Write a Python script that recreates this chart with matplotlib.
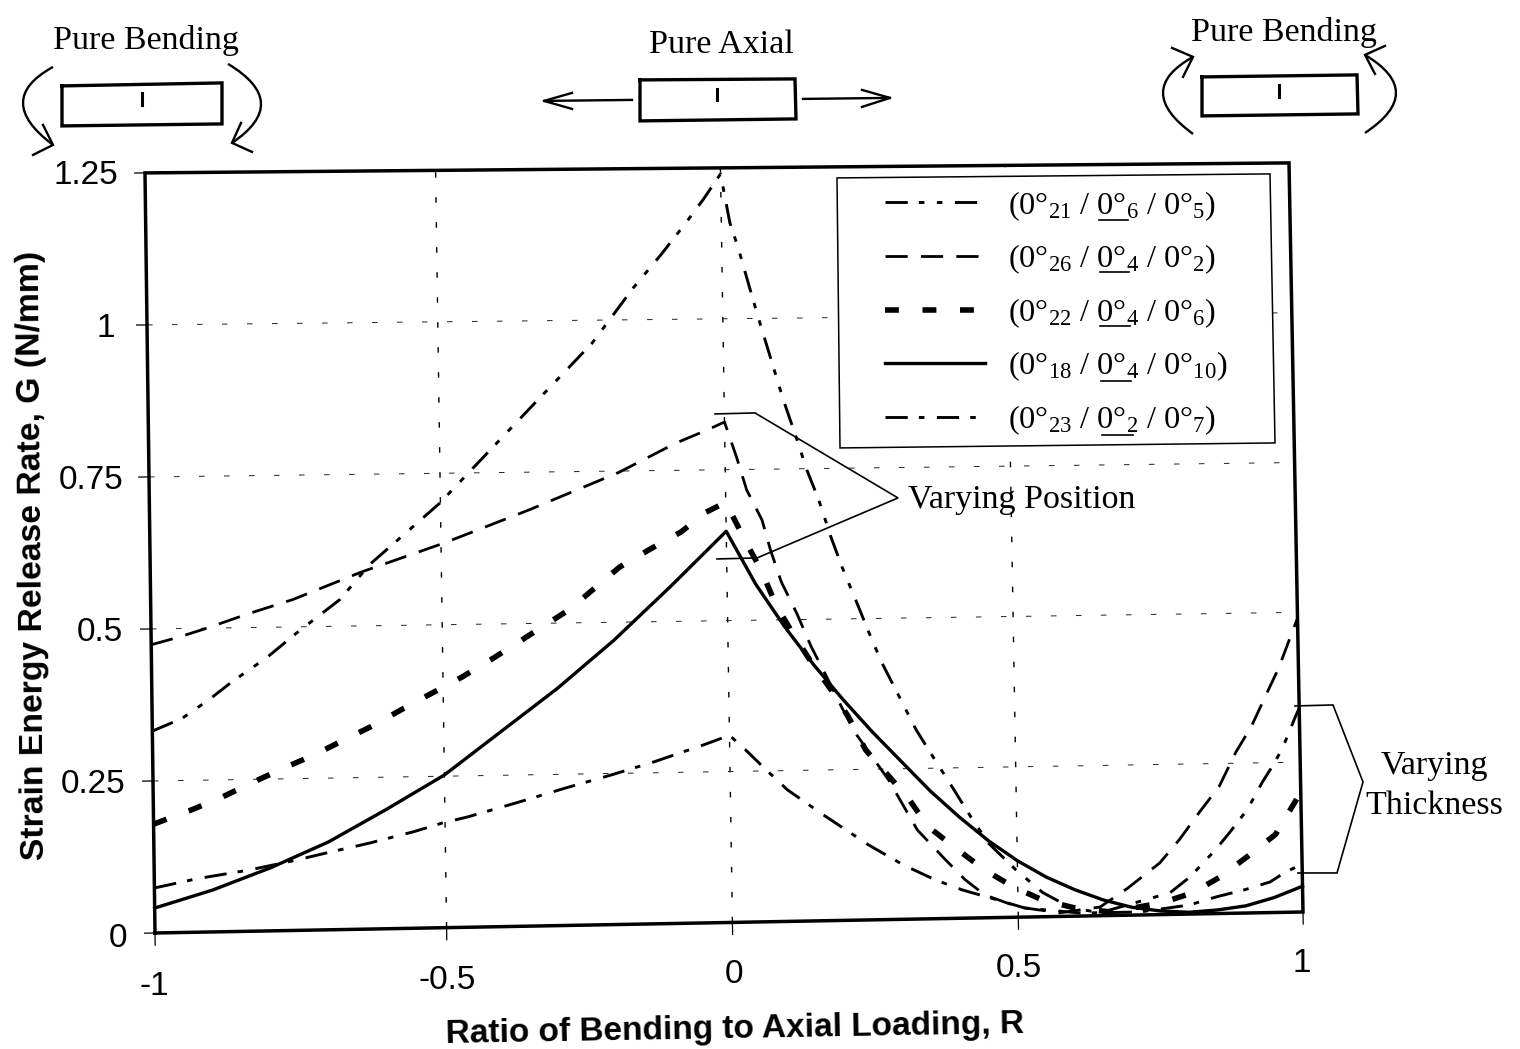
import matplotlib
matplotlib.use("Agg")
import matplotlib.pyplot as plt
import numpy as np
from matplotlib.patches import PathPatch, Polygon
from matplotlib.path import Path
from matplotlib.transforms import ScaledTranslation, Transform

plt.rcParams['lines.scale_dashes'] = False
plt.rcParams['mathtext.fontset'] = 'custom'
plt.rcParams['mathtext.rm'] = 'Liberation Serif'
plt.rcParams['mathtext.it'] = 'Liberation Serif:italic'
plt.rcParams['mathtext.bf'] = 'Liberation Serif:bold'

W = 1520
H = 1049
SANS = 'Liberation Sans'
SERIF = 'Liberation Serif'

# values
r_a = [-1, -.949, -.901, -.861, -.802, -.75, -.675, -.623, -.502, -.36, -.23, -.195, -.156, -.106, -.061, -.031, 0,
       .015, .029, .049, .062, .104, .124, .143, .163, .183, .202, .227, .247, .269, .295, .327, .351, .391, .42, .45,
       .497, .544, .593, .644, .767, .803, .849, .874, .906, .933, .951, .969, .994, 1]
g_a = [.332, .352, .383, .412, .45, .49, .544, .601, .70, .837, .962, 1.005, 1.053, 1.108, 1.161, 1.198, 1.24,
       1.159, 1.117, 1.047, 1.002, .864, .806, .748, .698, .637, .586, .526, .477, .426, .376, .314, .276, .214, .168, .124,
       .079, .04, .014, .005, .036, .062, .107, .135, .173, .218, .244, .273, .328, .34]

r_b = [-1, -.952, -.904, -.835, -.756, -.637, -.494, -.344, -.186, -.086, -.031, 0,
       .02, .037, .063, .077, .095, .121, .146, .17, .197, .22, .277, .326, .372, .408, .442, .5, .573,
       .644, .693, .75, .785, .821, .857, .887, .916, .941, .965, .993, 1]
g_b = [.474, .486, .50, .522, .545, .589, .635, .688, .748, .795, .816, .829,
       .771, .716, .666, .616, .563, .511, .454, .408, .354, .311, .232, .148, .10, .064, .038, .017, .006,
       .0145, .045, .086, .124, .169, .212, .268, .312, .361, .407, .474, .49]

r_c = [-1, -.933, -.881, -.829, -.777, -.722, -.67, -.622, -.57, -.518, -.467, -.414, -.277, -.188, -.136, -.079, -.035, 0,
       .034, .06, .085, .112, .146, .179, .209, .238, .276, .311, .345, .396, .442, .493, .543, .598, .661,
       .75, .806, .856, .904, .954, .989, 1]
g_c = [.179, .202, .222, .245, .267, .289, .313, .335, .362, .388, .413, .442, .522, .591, .619, .648, .68, .696,
       .63, .583, .525, .48, .428, .383, .337, .282, .24, .201, .153, .114, .08, .05, .028, .014, .006,
       .019, .035, .061, .094, .13, .183, .20]

r_s = [-1, -.9, -.8, -.7, -.6, -.5, -.4, -.3, -.2, -.1, 0,
       .05, .1, .15, .2, .25, .3, .35, .4, .45, .5, .55, .6, .65, .7, .75, .8, .85, .9, .95, 1]
g_s = [.041, .069, .104, .145, .197, .252, .322, .392, .47, .557, .648,
       .56, .488, .424, .366, .312, .262, .212, .168, .128, .094, .066, .044, .026, .013, .006, .003, .006, .012, .025, .043]

r_e = [-1, -.927, -.836, -.755, -.703, -.629, -.555, -.504, -.461, -.375, -.289, -.21, -.133, -.045, 0,
       .024, .063, .10, .163, .241, .301, .357, .403, .465, .512, .61, .713,
       .80, .849, .899, .943, .972, .992, 1]
g_e = [.074, .088, .101, .116, .127, .142, .159, .173, .182, .204, .227, .247, .268, .295, .31,
       .289, .252, .218, .175, .124, .09, .064, .047, .029, .015, .005, .005,
       .015, .028, .039, .051, .068, .076, .08]

x_ticks = [-1, -.5, 0, .5, 1]
x_tick_labels = ['-1', '-0.5', '0', '0.5', '1']
y_ticks = [0, .25, .5, .75, 1, 1.25]
y_tick_labels = ['0', '0.25', '0.5', '0.75', '1', '1.25']

lab_a = r'(0°$_{21}$ / 0°$_{6}$ / 0°$_{5}$)'
lab_b = r'(0°$_{26}$ / 0°$_{4}$ / 0°$_{2}$)'
lab_c = r'(0°$_{22}$ / 0°$_{4}$ / 0°$_{6}$)'
lab_s = r'(0°$_{18}$ / 0°$_{4}$ / 0°$_{10}$)'
lab_e = r'(0°$_{23}$ / 0°$_{2}$ / 0°$_{7}$)'


class ScanTilt(Transform):
    # the page was scanned a bit crooked, this bends the data the same way
    input_dims = 2
    output_dims = 2

    def transform_non_affine(self, xy):
        xy = np.asarray(xy, dtype=float)
        r = xy[:, 0]
        v = xy[:, 1] / 1.25
        u = np.interp(r, x_ticks, [0, .254, .503, .752, 1]) + (r - np.clip(r, -1, 1)) / 2
        px = (1 - v) * (155 + 1148 * u) + v * (145 + 1144 * u)
        py = (1 - v) * (933 - 21 * u) + v * (173 - 10 * u)
        return np.column_stack([(px - 155) / 1148 * 2 - 1, (933 - py) / 760 * 1.25])


fig = plt.figure(figsize=(15.2, 10.491), dpi=100)
ax = fig.add_axes([155 / W, 1 - 933 / H, 1148 / W, 760 / H])
ax.set_xlim(-1, 1)
ax.set_ylim(0, 1.25)
for s in ax.spines.values():
    s.set_visible(False)
tilt = ScanTilt() + ax.transData

# grid
for x in x_ticks[1:-1]:
    ax.plot([x, x], [0, 1.25], transform=tilt, color='black', lw=1.0, ls=(0, (4, 14)), clip_on=False, zorder=1)
for y in y_ticks[1:-1]:
    ax.plot([-1, 1], [y, y], transform=tilt, color='#222222', lw=0.7, ls=(0, (4, 14)), clip_on=False, zorder=1)

# frame and tick marks
ax.plot([-1, 1, 1, -1, -1], [0, 0, 1.25, 1.25, 0], transform=tilt, color='black', lw=2.5, clip_on=False, zorder=4,
        solid_joinstyle='miter')
for x in x_ticks:
    ax.plot([x, x], [-.02, 0], transform=tilt, color='black', lw=0.9, clip_on=False, zorder=1)
for y in y_ticks:
    ax.plot([-1.018, -1], [y, y], transform=tilt, color='black', lw=0.9, clip_on=False, zorder=1)

line_a, = ax.plot(r_a, g_a, transform=tilt, color='black', lw=2.1, ls=(0, (16, 8, 4, 9, 4, 9)), clip_on=False, zorder=3)
line_b, = ax.plot(r_b, g_b, transform=tilt, color='black', lw=2.0, ls=(0, (16, 9.5)), clip_on=False, zorder=3)
line_c, = ax.plot(r_c, g_c, transform=tilt, color='black', lw=4.0, ls=(0, (10, 17)), clip_on=False, zorder=3)
line_s, = ax.plot(r_s, g_s, transform=tilt, color='black', lw=2.4, clip_on=False, zorder=3)
line_e, = ax.plot(r_e, g_e, transform=tilt, color='black', lw=2.1, ls=(0, (16, 8, 4, 9)), clip_on=False, zorder=3)

ax.set_xticks(x_ticks)
ax.set_xticklabels(x_tick_labels, family=SANS, fontsize=24)
ax.set_yticks(y_ticks)
ax.set_yticklabels(y_tick_labels, family=SANS, fontsize=24)
ax.tick_params(length=0, pad=0)


def shift(label, dx, dy):
    off = ScaledTranslation(dx / 100, -dy / 100, fig.dpi_scale_trans)
    label.set_transform(label.get_transform() + off)


# the labels follow the crooked axes too
for lab, dx, dy in zip(ax.get_xticklabels(), [-1, 5, 5, 3, -1], [38, 32, 26, 20, 15]):
    shift(lab, dx, dy)
for lab, dx, dy in zip(ax.get_yticklabels(), [-28, -29, -32, -32, -40, -37], [2, 0, 0, 0, 0, -1]):
    shift(lab, dx, dy)

ax.set_xlabel('Ratio of Bending to Axial Loading, R', family=SANS, fontweight='bold', fontsize=24, rotation=1,
              va='center', ha='center')
ax.xaxis.set_label_coords((735 - 155) / 1148, (933 - 1029) / 760)
ax.set_ylabel('Strain Energy Release Rate, G (N/mm)', family=SANS, fontweight='bold', fontsize=24.3, rotation=90.5,
              va='center', ha='center')
ax.yaxis.set_label_coords((33 - 155) / 1148, (933 - 555) / 760)

# overlay in page pixels for the sketches and notes
art = fig.add_axes([0, 0, 1, 1], zorder=5)
art.set_xlim(0, W)
art.set_ylim(H, 0)
art.axis('off')

ax.add_patch(Polygon([(837, 178), (1270, 174), (1275, 443), (840, 448)], closed=True, facecolor='white',
                     edgecolor='black', lw=1.1, transform=art.transData, clip_on=False, zorder=4.5))
leg = ax.legend([line_a, line_b, line_c, line_s, line_e], [lab_a, lab_b, lab_c, lab_s, lab_e],
                loc='upper left', bbox_to_anchor=(885 / W, 1 - 189 / H), bbox_transform=fig.transFigure,
                frameon=False, borderpad=0, borderaxespad=0, handlelength=3.09, handletextpad=.72, labelspacing=.62,
                prop={'family': SERIF, 'size': 23.3})
leg.set_zorder(6)

# underlines of the middle ply
for x0, x1, y in [(1099, 1128, 220), (1100, 1129, 272), (1100, 1130, 326), (1101, 1131, 381), (1102, 1133, 435)]:
    art.plot([x0, x1], [y, y], color='black', lw=1.2)


def seg(pts, lw=1.5):
    xs, ys = zip(*pts)
    art.plot(xs, ys, color='black', lw=lw, solid_joinstyle='miter')


def curve(p0, mid, p1):
    ctrl = (2 * mid[0] - (p0[0] + p1[0]) / 2, 2 * mid[1] - (p0[1] + p1[1]) / 2)
    art.add_patch(PathPatch(Path([p0, ctrl, p1], [Path.MOVETO, Path.CURVE3, Path.CURVE3]), fill=False, lw=1.7))


# left sketch
seg([(62, 86), (222, 83), (222, 124), (62, 126), (62, 86)], 2.4)
seg([(142, 93), (142, 105)], 2.2)
curve((53, 67), (23, 103), (53, 145))
seg([(43, 125), (53, 145), (33, 155)], 1.7)
curve((228, 64), (261, 103), (232, 143))
seg([(241, 123), (232, 143), (252, 152)], 1.7)

# middle sketch
seg([(640, 80), (795, 79), (796, 119), (640, 121), (640, 80)], 2.4)
seg([(717, 89), (717, 100)], 2.2)
seg([(632, 100), (544, 101)], 1.7)
seg([(572, 93), (544, 101), (572, 109)], 1.7)
seg([(803, 99), (890, 98)], 1.7)
seg([(862, 90), (890, 98), (862, 107)], 1.7)

# right sketch
seg([(1202, 77), (1357, 75), (1358, 114), (1202, 116), (1202, 77)], 2.4)
seg([(1279, 85), (1279, 97)], 2.2)
curve((1193, 134), (1163, 93), (1193, 57))
seg([(1172, 48), (1193, 57), (1183, 77)], 1.7)
curve((1365, 133), (1396, 93), (1365, 55))
seg([(1385, 46), (1365, 55), (1375, 74)], 1.7)

# brackets
seg([(715, 414), (755, 413), (898, 498), (757, 558), (717, 559)], 1.2)
seg([(1295, 706), (1333, 705), (1363, 782), (1337, 873), (1298, 873)], 1.2)

notes = [('Pure Bending', 146, 40), ('Pure Axial', 721, 45), ('Pure Bending', 1284, 32),
         ('Varying Position', 1022, 500), ('Varying', 1434, 766), ('Thickness', 1434, 806)]
for txt, x, y in notes:
    art.text(x, y, txt, family=SERIF, fontsize=24.5, ha='center', va='center')

fig.savefig('out.png', dpi=100)
